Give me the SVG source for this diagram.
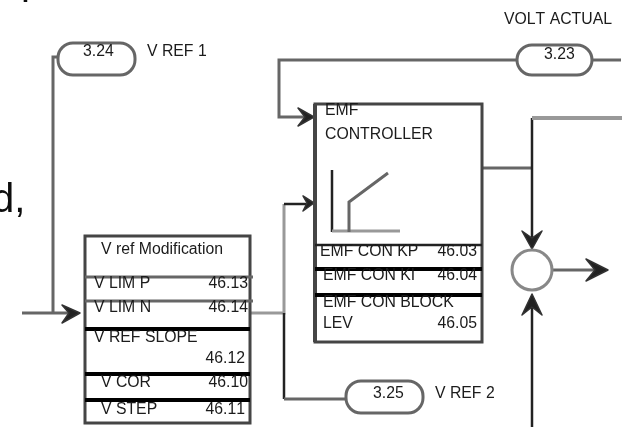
<svg xmlns="http://www.w3.org/2000/svg" width="639" height="427" viewBox="0 0 639 427">
<defs>
<style>
text{font-family:"Liberation Sans",Arial,sans-serif;font-size:15.8px;font-kerning:none;fill:#1a1a1a}
.big{font-size:40px;fill:#111}
.end{text-anchor:end}
.box{fill:#fff;stroke:#444;stroke-width:3}
.pill{fill:#fff;stroke:#666;stroke-width:3}
.g{fill:none;stroke:#666;stroke-width:3}
.lg{fill:none;stroke:#999;stroke-width:3}
.k{fill:none;stroke:#222;stroke-width:2.5}
.t{fill:none;stroke:#000;stroke-width:4}
.head{fill:#222;stroke:#333;stroke-width:1.5;stroke-linejoin:round}
</style>
<filter id="soft" x="-5%" y="-5%" width="110%" height="110%"><feGaussianBlur stdDeviation="0.65"/></filter>
</defs>
<g filter="url(#soft)">
<text class="big" x="21" y="-6">p</text>
<text class="big" x="-8" y="212">d,</text>
<g id="connectors">
<path class="g" d="M58 57H53V313"/>
<path class="g" d="M22 313H72"/>
<path class="head" d="M62 305L80 313L62 323L69 313Z"/>
<path class="lg" d="M251 313H284V204"/>
<path class="k" d="M284 204H306"/>
<path class="head" d="M303 196L314 203L303 211L307 203Z"/>
<path class="k" d="M284 313V399"/>
<path class="g" d="M284 399H346"/>
<path class="g" d="M517 60H279V117H306"/>
<path class="head" d="M298 108L314 117L298 126L305 117Z"/>
<path class="g" d="M592 60H621"/>
<path class="g" d="M482 168H532"/>
<path class="k" d="M532 118V240"/>
<path class="lg" d="M532 118H622" style="stroke-width:4"/>
<path class="head" d="M522 231L532 249L542 231L532 238Z"/>
<path class="k" d="M532 427V304"/>
<path class="head" d="M522 315L532 294L542 315L532 307Z"/>
<path class="g" d="M552 270H598"/>
<path class="head" d="M586 259L608 270L586 281L595 270Z"/>
</g>
<g id="pill-324">
<rect class="pill" x="58" y="43" width="77" height="32" rx="15"/>
<text x="83" y="56">3.24</text>
<text x="147" y="56">V REF 1</text>
</g>
<g id="pill-323">
<rect class="pill" x="517" y="45" width="75" height="30" rx="15"/>
<text x="544" y="59">3.23</text>
<text x="504" y="24">VOLT ACTUAL</text>
</g>
<g id="pill-325">
<rect class="pill" x="346" y="381" width="77" height="32" rx="15"/>
<text x="373" y="398">3.25</text>
<text x="435" y="398">V REF 2</text>
</g>
<g id="v-ref-modification">
<rect class="box" x="85" y="236" width="165" height="187"/>
<path class="g" d="M85 277H253M85 301H253"/>
<path class="t" d="M85 329H250M85 374H250M85 400H250"/>
<text x="101" y="254">V ref Modification</text>
<text x="94" y="288">V LIM P</text><text class="end" x="248" y="288">46.13</text>
<text x="94" y="312">V LIM N</text><text class="end" x="248" y="312">46.14</text>
<text x="94" y="342">V REF SLOPE</text><text class="end" x="245" y="363">46.12</text>
<text x="101" y="387">V COR</text><text class="end" x="248" y="387">46.10</text>
<text x="101" y="414">V STEP</text><text class="end" x="245" y="414">46.11</text>
</g>
<g id="emf-controller">
<rect class="box" x="315" y="104" width="167" height="238"/>
<path d="M315 104V342" fill="none" stroke="#444" stroke-width="4"/>
<path class="k" d="M332 170V232"/>
<path class="lg" d="M332 231H400"/>
<path class="g" d="M349 232V202L388 173"/>
<path class="k" d="M315 245H482"/>
<path class="t" d="M315 269H482M315 295H482"/>
<text x="325" y="115">EMF</text>
<text x="325" y="139">CONTROLLER</text>
<text x="320" y="256">EMF CON KP</text><text class="end" x="477" y="256">46.03</text>
<text x="323" y="280">EMF CON KI</text><text class="end" x="477" y="280">46.04</text>
<text x="323" y="307">EMF CON BLOCK</text>
<text x="323" y="328">LEV</text><text class="end" x="477" y="328">46.05</text>
</g>
<g id="summing-junction">
<circle cx="532" cy="270" r="20" fill="#fff" stroke="#888" stroke-width="3"/>
</g>
</g>
</svg>
